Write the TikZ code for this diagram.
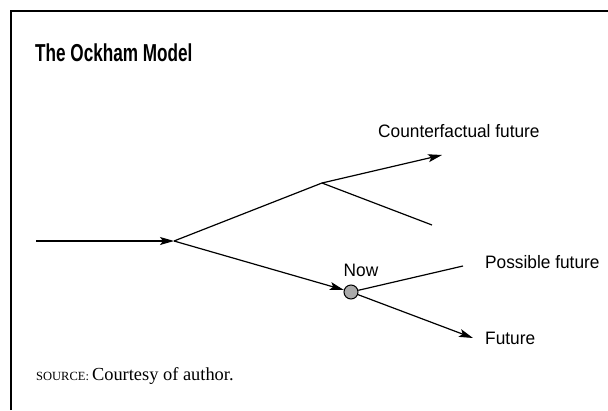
\documentclass[tikz,border=0pt]{standalone}
\usepackage{fontspec}
\setmainfont{Liberation Serif}
\newfontfamily\labfont[FakeStretch=0.96]{Liberation Sans}
\newfontfamily\titfont[FakeStretch=0.70]{Liberation Sans}
\usetikzlibrary{arrows.meta}
\definecolor{nowgray}{RGB}{170,170,170}
\tikzset{
  conn/.style={line width=1.2pt},
  arr/.style={conn,-{Stealth[length=14pt,width=8pt,inset=3pt]}},
  lab/.style={font=\labfont\fontsize{18}{20}\selectfont,inner sep=0pt},
}
\begin{document}
\begin{tikzpicture}[x=1pt,y=-1pt]
\useasboundingbox (0,0) rectangle (608,410);
\draw[line width=1.5pt] (11,410) -- (11,11) -- (608,11);
\node[anchor=west,inner sep=0pt,font=\titfont\bfseries\fontsize{24.5}{26}\selectfont] (title) at (35,53) {The Ockham Model};
\coordinate (start) at (36,241);
\coordinate (A) at (174,241);
\coordinate (B) at (322,183);
\coordinate (cf) at (442,155);
\coordinate (dead) at (432,225);
\coordinate (pf) at (463,266);
\coordinate (fut) at (473,338);
\node[circle,draw,line width=1pt,fill=nowgray,minimum size=14pt,inner sep=0pt] (now) at (351,292) {};
\draw[arr] (start) -- (A);
\draw[conn] (A) -- (B);
\draw[arr] (B) -- (cf);
\draw[conn] (B) -- (dead);
\draw[arr] (A) -- (now);
\draw[conn] (now) -- (pf);
\draw[arr] (now) -- (fut);
\node[lab,anchor=west] (cflab) at (378,131) {Counterfactual future};
\node[lab] (nowlab) at (361,270) {Now};
\node[lab,anchor=west] (pflab) at (485,262) {Possible future};
\node[lab,anchor=west] (futlab) at (485,338) {Future};
\node[anchor=west,inner sep=0pt] (src) at (36,376) {\fontsize{12.5}{14}\selectfont SOURCE:\fontsize{18.4}{20}\selectfont\,Courtesy of author.};
\end{tikzpicture}
\end{document}
